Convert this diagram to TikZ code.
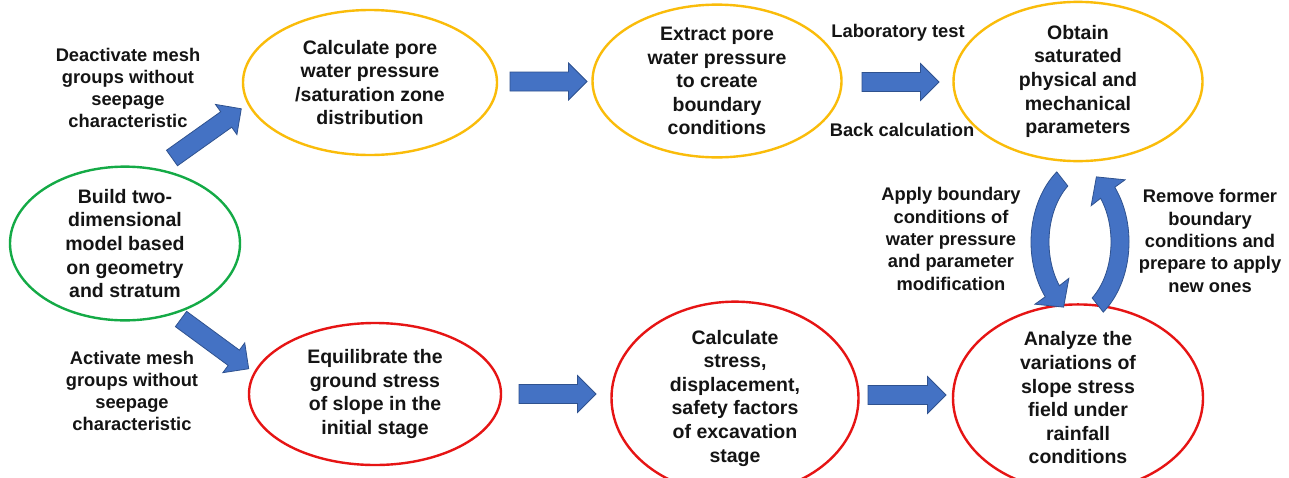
\documentclass[tikz,border=0pt]{standalone}
\usepackage{fontspec}
\setmainfont{Liberation Sans}
\usetikzlibrary{shapes.geometric}
\definecolor{goldline}{RGB}{250,188,10}
\definecolor{redline}{RGB}{230,20,20}
\definecolor{greenline}{RGB}{20,170,70}
\definecolor{arrowfill}{RGB}{68,114,196}
\definecolor{arrowline}{RGB}{47,82,143}
\definecolor{txt}{RGB}{20,20,20}
\tikzset{
  stage/.style={ellipse, draw, line width=2.4pt, inner sep=0pt, align=center, text=txt,
    font=\fontsize{19.5}{23.6}\selectfont\bfseries},
  goldstage/.style={stage, draw=goldline},
  redstage/.style={stage, draw=redline},
  greenstage/.style={stage, draw=greenline},
  lbl/.style={inner sep=0pt, align=center, text=txt, font=\fontsize{18.3}{22.3}\selectfont\bfseries},
  arrowstyle/.style={fill=arrowfill, draw=arrowline, line width=0.8pt, line join=miter},
  pics/blockarrow/.style={code={
    \path[arrowstyle] (0,-9.5) -- ({#1-18.5},-9.5) -- ({#1-18.5},-18.5) -- (#1,0)
      -- ({#1-18.5},18.5) -- ({#1-18.5},9.5) -- (0,9.5) -- cycle;
  }},
  pics/curvedarrow/.style={code={
    \path[arrowstyle] (128:67 and 89) arc[start angle=128, end angle=218, x radius=67, y radius=89]
      -- (218:80 and 101) -- (234:58.5 and 80.5) -- (218:37 and 59) -- (218:49 and 71)
      arc[start angle=218, end angle=128, x radius=49, y radius=71] -- cycle;
  }}
}
\begin{document}
\begin{tikzpicture}[x=1pt, y=-1pt]
\useasboundingbox[fill=white] (0,0) rectangle (1289,477);

% stages
\node[greenstage, minimum width=230, minimum height=143] (build) at (125,243.5)
  {Build two-\\dimensional\\model based\\on geometry\\and stratum};
\node[goldstage, minimum width=254, minimum height=145] (calcpore) at (370,82.5)
  {Calculate pore\\water pressure\\/saturation zone\\distribution};
\node[goldstage, minimum width=249, minimum height=144] (extract) at (717,81)
  {Extract pore\\water pressure\\to create\\boundary\\conditions};
\node[goldstage, minimum width=249, minimum height=145] (obtain) at (1078,81.5)
  {Obtain\\saturated\\physical and\\mechanical\\parameters};
\node[redstage, minimum width=252, minimum height=142] (equil) at (375,394)
  {Equilibrate the\\ground stress\\of slope in the\\initial stage};
\node[redstage, minimum width=247, minimum height=153] (calcstress) at (735,398)
  {Calculate\\stress,\\displacement,\\safety factors\\of excavation\\stage};
\node[redstage, minimum width=250, minimum height=153] (analyze) at (1078,398)
  {Analyze the\\variations of\\slope stress\\field under\\rainfall\\conditions};

% labels
\node[lbl] (deact) at (128,88) {Deactivate mesh\\groups without\\seepage\\characteristic};
\node[lbl] (act) at (132,391) {Activate mesh\\groups without\\seepage\\characteristic};
\node[lbl] (lab) at (898,33) {Laboratory test};
\node[lbl] (back) at (902,130) {Back calculation};
\node[lbl] (apply) at (951,239) {Apply boundary\\conditions of\\water pressure\\and parameter\\modification};
\node[lbl] (remove) at (1210,241) {Remove former\\boundary\\conditions and\\prepare to apply\\new ones};

% block arrows
\pic[rotate=35.4] at (172,158) {blockarrow=85};
\pic[rotate=-36.3] at (181,319) {blockarrow=84};
\pic at (510,81.5) {blockarrow=77};
\pic at (862,82) {blockarrow=77};
\pic at (519,394) {blockarrow=77};
\pic at (868,395) {blockarrow=78};

% cycle arrows
\pic[yscale=-1] at (1098,242) {curvedarrow};
\pic[yscale=-1, rotate=180] at (1062,242) {curvedarrow};
\end{tikzpicture}
\end{document}
